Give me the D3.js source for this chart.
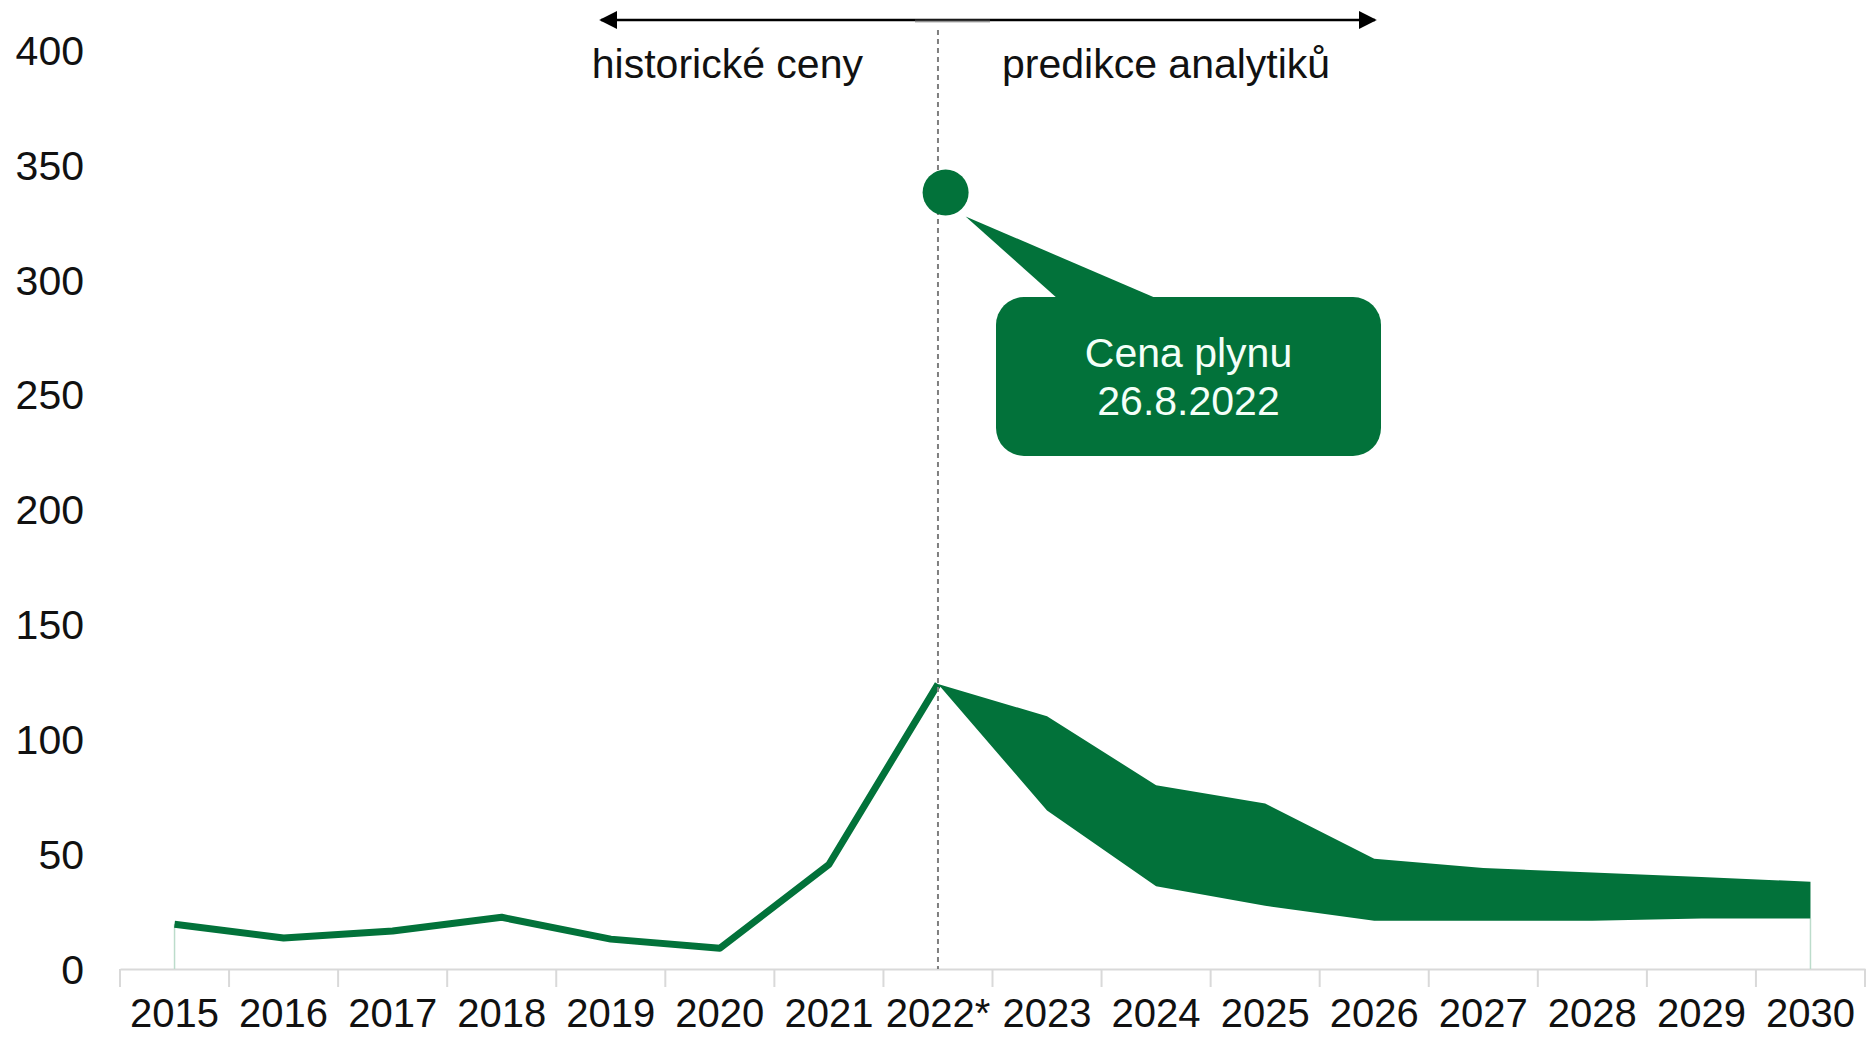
<!DOCTYPE html>
<html>
<head>
<meta charset="utf-8">
<script src="https://cdn.jsdelivr.net/npm/d3@7"></script>
<style>
  body { margin: 0; background: #fff; }
  text { font-family: "Liberation Sans", Arial, sans-serif; }
</style>
</head>
<body>
<script>
// data
const years = ["2015", "2016", "2017", "2018", "2019", "2020", "2021", "2022*",
  "2023", "2024", "2025", "2026", "2027", "2028", "2029", "2030"];
const historic = [19.5, 13.5, 16.5, 22.5, 13, 9, 45.5, 124];
const predHigh = [124, 110, 80, 72, 48, 44, 42, 40, 38];
const predLow = [124, 69, 36, 27.5, 21, 21, 21, 22, 22];
const yTicks = [0, 50, 100, 150, 200, 250, 300, 350, 400];
const gasPrice = 338;
const gasLabel = ["Cena plynu", "26.8.2022"];
const leftLabel = "historické ceny";
const rightLabel = "predikce analytiků";

const w = 1875;
const h = 1037;
const green = "#02723a";

const svg = d3.select("body").append("svg")
  .attr("width", w).attr("height", h);

const xScale = d3.scaleBand().domain(years).range([120, 1865]).padding(0);
const yScale = d3.scaleLinear().domain([0, 400]).range([969, 50]);
const cx = (d) => xScale(d) + xScale.bandwidth() / 2;

// y labels (no axis line)
svg.append("g").selectAll("text")
  .data(yTicks).enter().append("text")
  .attr("x", 84)
  .attr("y", (d) => yScale(d))
  .attr("dy", "0.36em")
  .attr("text-anchor", "end")
  .attr("font-size", 41)
  .attr("fill", "#111")
  .text((d) => d);

// x axis
const xAxis = d3.axisBottom(xScale).tickSize(0).tickPadding(30);
const gx = svg.append("g")
  .attr("transform", "translate(0," + yScale(0) + ")")
  .call(xAxis);
gx.select(".domain").attr("stroke", "#d9d9d9").attr("stroke-width", 2);
gx.selectAll("text").attr("font-size", 40).attr("fill", "#111")
  .attr("font-family", "Liberation Sans, Arial, sans-serif");
// separators between categories
gx.selectAll(".sep")
  .data(years.concat(["end"])).enter().append("line")
  .attr("class", "sep")
  .attr("x1", (d, i) => i < years.length ? xScale(d) : xScale.range()[1])
  .attr("x2", (d, i) => i < years.length ? xScale(d) : xScale.range()[1])
  .attr("y1", 0).attr("y2", 18)
  .attr("stroke", "#d9d9d9").attr("stroke-width", 2);

// drop lines at both ends
svg.append("line")
  .attr("x1", cx(years[0])).attr("x2", cx(years[0]))
  .attr("y1", yScale(historic[0])).attr("y2", yScale(0))
  .attr("stroke", "#bcdccb").attr("stroke-width", 1.5);
svg.append("line")
  .attr("x1", cx(years[15])).attr("x2", cx(years[15]))
  .attr("y1", yScale(predLow[8])).attr("y2", yScale(0))
  .attr("stroke", "#bcdccb").attr("stroke-width", 1.5);

// prediction band
const predYears = years.slice(7);
const area = d3.area()
  .x((d, i) => cx(predYears[i]))
  .y0((d, i) => yScale(predLow[i]))
  .y1((d, i) => yScale(predHigh[i]));
svg.append("path")
  .datum(predHigh)
  .attr("d", area)
  .attr("fill", green);

// historic line
const line = d3.line()
  .x((d, i) => cx(years[i]))
  .y((d) => yScale(d));
svg.append("path")
  .datum(historic)
  .attr("d", line)
  .attr("fill", "none")
  .attr("stroke", green)
  .attr("stroke-width", 7)
  .attr("stroke-linejoin", "round");

// dashed divider
const divX = cx("2022*");
svg.append("line")
  .attr("x1", divX).attr("x2", divX)
  .attr("y1", 30).attr("y2", yScale(0))
  .attr("stroke", "#7f7f7f")
  .attr("stroke-width", 2)
  .attr("stroke-dasharray", "5,4");

// top double arrow
const defs = svg.append("defs");
defs.append("marker")
  .attr("id", "ah").attr("viewBox", "0 0 10 10")
  .attr("refX", 9).attr("refY", 5)
  .attr("markerWidth", 18).attr("markerHeight", 18)
  .attr("markerUnits", "userSpaceOnUse")
  .attr("orient", "auto-start-reverse")
  .append("path").attr("d", "M0,0 L10,5 L0,10 z").attr("fill", "#000");
svg.append("line")
  .attr("x1", 601).attr("x2", 1375)
  .attr("y1", 20).attr("y2", 20)
  .attr("stroke", "#000").attr("stroke-width", 2.5)
  .attr("marker-start", "url(#ah)")
  .attr("marker-end", "url(#ah)");
svg.append("line")
  .attr("x1", 915).attr("x2", 990)
  .attr("y1", 21).attr("y2", 21)
  .attr("stroke", "#666").attr("stroke-width", 3).attr("opacity", 0.5);

svg.append("text")
  .attr("x", divX - 75).attr("y", 78)
  .attr("text-anchor", "end")
  .attr("font-size", 41).attr("fill", "#111")
  .text(leftLabel);
svg.append("text")
  .attr("x", divX + 64).attr("y", 78)
  .attr("text-anchor", "start")
  .attr("font-size", 41).attr("fill", "#111")
  .text(rightLabel);

// gas price point + callout
const gx0 = divX + xScale.bandwidth() * 0.07;
const gy0 = yScale(gasPrice);
const box = { x: 996, y: 297, w: 385, h: 159 };
svg.append("path")
  .attr("d", "M" + (gx0 + 20) + "," + (gy0 + 24) +
    " L" + (box.x + 62) + "," + (box.y + 2) +
    " L" + (box.x + 162) + "," + (box.y + 2) + " Z")
  .attr("fill", green);
svg.append("rect")
  .attr("x", box.x).attr("y", box.y)
  .attr("width", box.w).attr("height", box.h)
  .attr("rx", 28).attr("ry", 28)
  .attr("fill", green);
svg.append("circle")
  .attr("cx", gx0).attr("cy", gy0)
  .attr("r", 23)
  .attr("fill", green);
svg.append("g").selectAll("text")
  .data(gasLabel).enter().append("text")
  .attr("x", box.x + box.w / 2)
  .attr("y", (d, i) => 367 + i * 48)
  .attr("text-anchor", "middle")
  .attr("font-size", 41)
  .attr("fill", "#f4fff8")
  .text((d) => d);
</script>
</body>
</html>
